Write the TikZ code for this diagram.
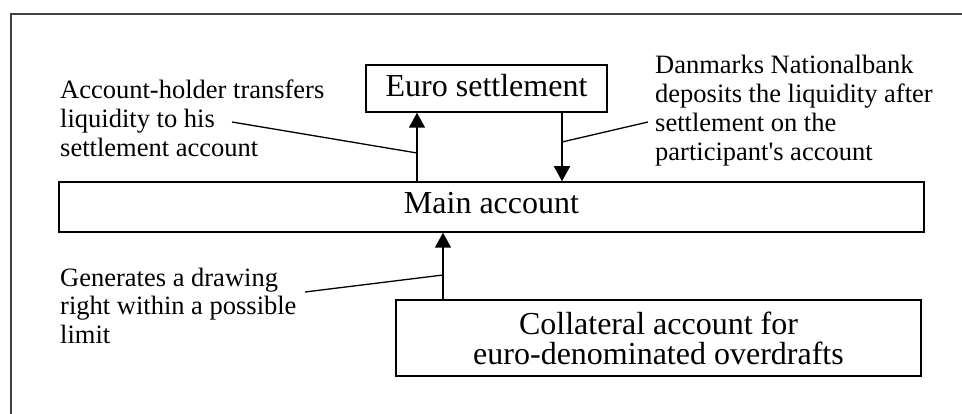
\documentclass[tikz,border=0pt]{standalone}
\usepackage{fontspec}
\setmainfont{Liberation Serif}
\usetikzlibrary{arrows.meta}
\begin{document}
\begin{tikzpicture}[x=1pt,y=-1pt,
  box/.style={draw,line width=1.5pt,inner sep=0pt,font=\fontsize{32}{30}\selectfont},
  lbl/.style={anchor=base west,align=left,inner sep=0pt,font=\fontsize{26.5}{29}\selectfont},
  arr/.style={line width=1.5pt,-{Triangle[length=15pt,width=16pt]}},
  lead/.style={line width=1.3pt},
  frame/.style={line width=2pt,draw=black!75}]
\useasboundingbox (0,0) rectangle (962,414);
\clip (0,0) rectangle (962,414);
\draw[frame] (11,14) rectangle (990,440);
% boxes
\node[box,minimum width=241pt,minimum height=47pt,text height=22pt,text depth=5pt] (euro) at (486.5,88.5) {Euro settlement};
\node[box,minimum width=865pt,minimum height=50pt,text height=22pt,text depth=8pt] (main) at (491.5,207) {Main account};
\node[box,minimum width=525pt,minimum height=76pt,align=center] (coll) at (658.5,338) {Collateral account for\\euro-denominated overdrafts};
% labels (base anchor = baseline of last line)
\node[lbl] (acc) at (60,157) {Account-holder transfers\\liquidity to his\\settlement account};
\node[lbl] (dnb) at (655,161) {Danmarks Nationalbank\\deposits the liquidity after\\settlement on the\\participant\textquotesingle s account};
\node[lbl] (gen) at (60,344) {Generates a drawing\\right within a possible\\limit};
% arrow columns
\coordinate (cx1) at (417,0);
\coordinate (cx2) at (562,0);
\coordinate (cx3) at (443,0);
\draw[arr] (cx1 |- main.north) -- (cx1 |- euro.south);
\draw[arr] (cx2 |- euro.south) -- (cx2 |- main.north);
\draw[arr] (cx3 |- coll.north) -- (cx3 |- main.south);
% leader lines
\coordinate (l1a) at (232,122); \coordinate (l1b) at (417,153);
\coordinate (l2a) at (562,142); \coordinate (l2b) at (648,122);
\coordinate (l3a) at (305,292); \coordinate (l3b) at (443,275);
\draw[lead] (l1a) -- (l1b);
\draw[lead] (l2a) -- (l2b);
\draw[lead] (l3a) -- (l3b);
\end{tikzpicture}
\end{document}
